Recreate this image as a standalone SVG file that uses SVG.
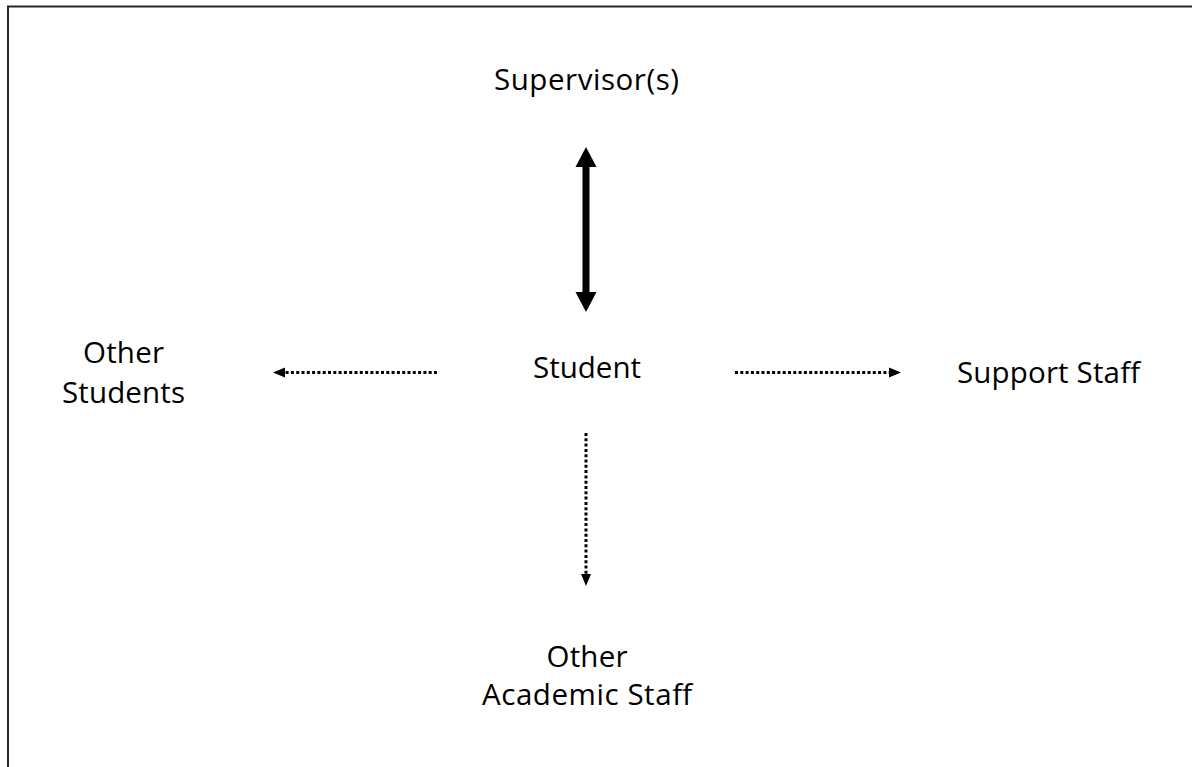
<svg xmlns="http://www.w3.org/2000/svg" width="1192" height="767" viewBox="0 0 1192 767">
  <style>
    .label { font-family: "Open Sans", "Noto Sans", sans-serif; font-size: 29.5px; fill: #000; text-anchor: middle; }
    .frame { stroke: #262626; stroke-width: 2; fill: none; }
    .solid { stroke: #000; stroke-width: 7; fill: none; }
    .dotted { stroke: #000; stroke-width: 3; stroke-dasharray: 3 2.3; fill: none; }
    .head { fill: #000; stroke: none; }
  </style>

  <rect width="1192" height="767" fill="#fff"/>

  <!-- page frame: top and left edges -->
  <path class="frame" d="M8 767 V6.5 H1192"/>

  <g id="connectors">
    <!-- student to supervisor(s): two-way solid -->
    <g id="link-supervisor">
      <line class="solid" x1="586" y1="165" x2="586" y2="294"/>
      <polygon class="head" points="586,147 575.5,167 596.5,167"/>
      <polygon class="head" points="586,312 575.5,292 596.5,292"/>
    </g>
    <!-- student to other students: dotted -->
    <g id="link-students">
      <line class="dotted" x1="437" y1="372.5" x2="284" y2="372.5"/>
      <polygon class="head" points="273,372.5 285,367.5 285,377.5"/>
    </g>
    <!-- student to support staff: dotted -->
    <g id="link-support">
      <line class="dotted" x1="735" y1="372.5" x2="890" y2="372.5"/>
      <polygon class="head" points="901,372.5 889,367.5 889,377.5"/>
    </g>
    <!-- student to other academic staff: dotted -->
    <g id="link-academic">
      <line class="dotted" x1="586" y1="433" x2="586" y2="575"/>
      <polygon class="head" points="586,586 581,574 591,574"/>
    </g>
  </g>

  <g id="node-supervisors">
    <text class="label" x="586.5" y="90" textLength="185">Supervisor(s)</text>
  </g>
  <g id="node-student">
    <text class="label" x="587" y="378" textLength="108">Student</text>
  </g>
  <g id="node-other-students">
    <text class="label" x="123.5" y="363" textLength="81">Other</text>
    <text class="label" x="123.5" y="403" textLength="123">Students</text>
  </g>
  <g id="node-support-staff">
    <text class="label" x="1048.5" y="383" textLength="183">Support Staff</text>
  </g>
  <g id="node-academic-staff">
    <text class="label" x="587" y="667" textLength="81">Other</text>
    <text class="label" x="587" y="705" textLength="210">Academic Staff</text>
  </g>
</svg>
